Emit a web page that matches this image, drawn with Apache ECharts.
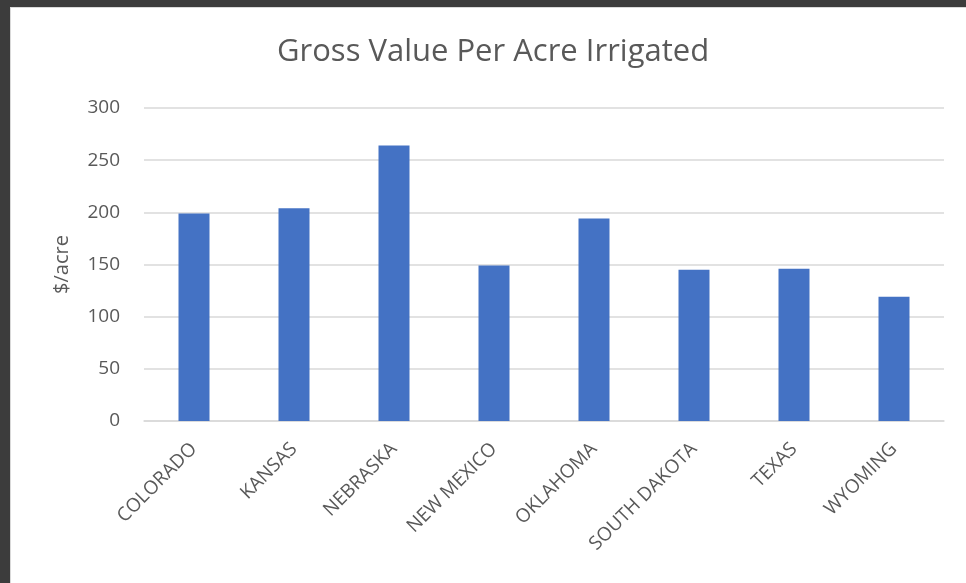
<!DOCTYPE html>
<html>
<head>
<meta charset="utf-8">
<script src="https://cdn.jsdelivr.net/npm/echarts@6/dist/echarts.min.js"></script>
<style>
  html, body { margin: 0; padding: 0; width: 966px; height: 583px; background: #3c3c3c; overflow: hidden; }
  #panel { position: absolute; left: 10px; top: 7px; width: 955px; height: 575px; background: #fff; border: 1px solid #d9d9d9; }
  #chart { position: absolute; left: 0; top: 0; width: 966px; height: 583px; }
</style>
</head>
<body>
<div id="panel"></div>
<div id="chart"></div>
<script>
  const states = ["COLORADO", "KANSAS", "NEBRASKA", "NEW MEXICO", "OKLAHOMA", "SOUTH DAKOTA", "TEXAS", "WYOMING"];
  const valuePerAcre = [199, 204, 264, 149, 194, 145, 146, 119];

  const chart = echarts.init(document.getElementById("chart"));
  const font = "'Open Sans', sans-serif";

  chart.setOption({
    backgroundColor: "transparent",
    animation: false,
    title: {
      text: "Gross Value Per Acre Irrigated",
      left: 272,
      top: 32,
      textStyle: { fontFamily: font, fontSize: 31, fontWeight: "normal", color: "#595959" },
    },
    grid: { left: 144, right: 22, top: 108, bottom: 162 },
    xAxis: {
      type: "category",
      data: states,
      axisLine: { lineStyle: { color: "#d9d9d9", width: 1.5 } },
      axisTick: { show: false },
      axisLabel: {
        interval: 0,
        rotate: 45,
        margin: 25,
        fontFamily: font,
        fontSize: 19,
        color: "#595959",
      },
    },
    yAxis: {
      type: "value",
      min: 0,
      max: 300,
      interval: 50,
      name: "$/acre",
      nameLocation: "middle",
      nameGap: 72,
      nameTextStyle: { fontFamily: font, fontSize: 20, color: "#595959" },
      axisLine: { show: false },
      axisTick: { show: false },
      axisLabel: { margin: 24, fontFamily: font, fontSize: 19, color: "#595959" },
      splitLine: { lineStyle: { color: "#d9d9d9", width: 1.5 } },
    },
    series: [
      {
        type: "bar",
        data: valuePerAcre,
        barWidth: "31%",
        itemStyle: { color: "#4472c4" },
      },
    ],
  });
</script>
</body>
</html>
